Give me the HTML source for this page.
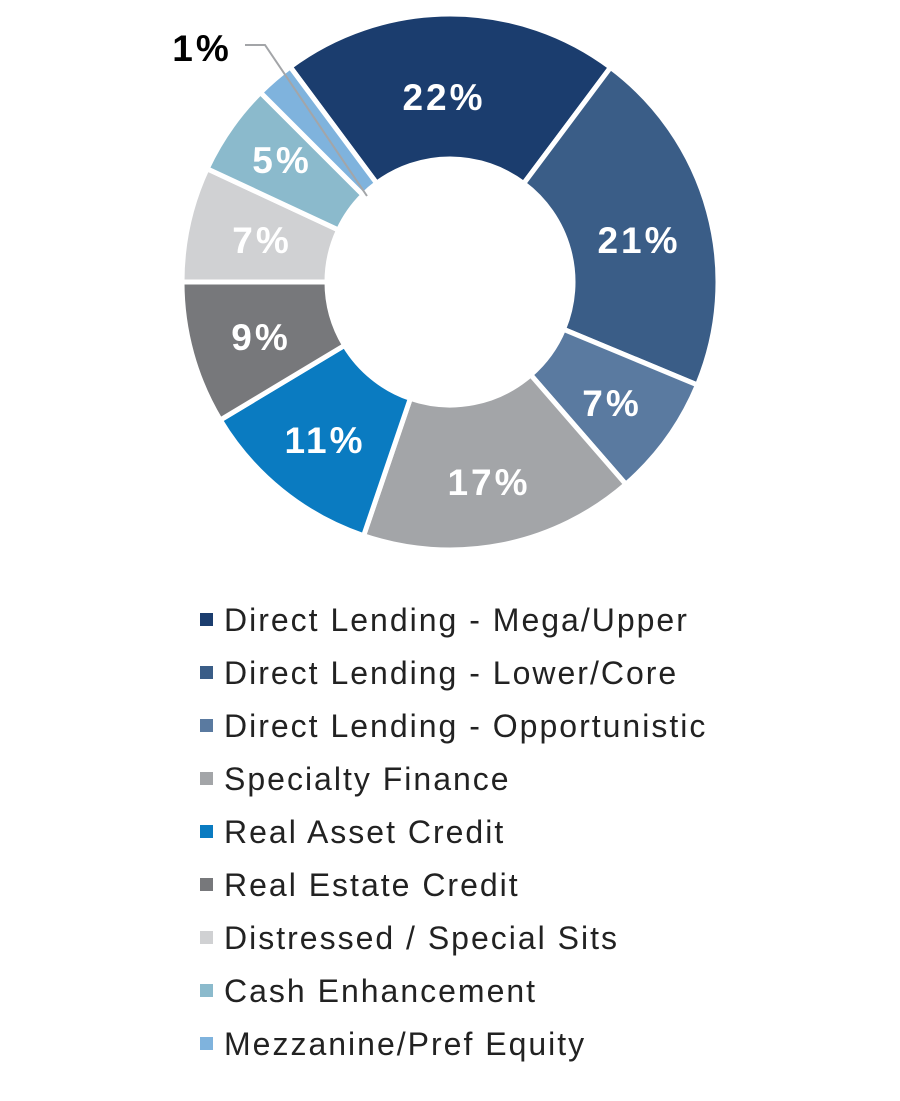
<!DOCTYPE html>
<html><head><meta charset="utf-8"><style>
body{margin:0;background:#fff;width:900px;height:1096px;overflow:hidden;font-family:"Liberation Sans",sans-serif}
</style></head><body>
<svg width="900" height="1096" xmlns="http://www.w3.org/2000/svg">
<g id="d" stroke="#fff" stroke-width="5" stroke-linejoin="miter"></g>
<polyline points="245,45 265,45 367,196" fill="none" stroke="#a3a5a8" stroke-width="2"/>
<g font-family="Liberation Sans, sans-serif" font-weight="bold" font-size="37" fill="#fff" text-anchor="middle" letter-spacing="3">
<text x="444" y="110">22%</text>
<text x="639" y="253">21%</text>
<text x="612" y="416">7%</text>
<text x="489" y="495">17%</text>
<text x="325" y="453">11%</text>
<text x="261" y="350">9%</text>
<text x="262" y="253">7%</text>
<text x="282" y="173">5%</text>
<text x="202" y="61" fill="#000">1%</text>
</g>
<g font-family="Liberation Sans, sans-serif" font-size="32" fill="#222" letter-spacing="2">
<rect x="200" y="613" width="13" height="13" fill="#1b3d6e"/><text x="224" y="631">Direct Lending - Mega/Upper</text>
<rect x="200" y="666" width="13" height="13" fill="#3a5d87"/><text x="224" y="684">Direct Lending - Lower/Core</text>
<rect x="200" y="719" width="13" height="13" fill="#5a7aa0"/><text x="224" y="737">Direct Lending - Opportunistic</text>
<rect x="200" y="772" width="13" height="13" fill="#a3a5a8"/><text x="224" y="790">Specialty Finance</text>
<rect x="200" y="825" width="13" height="13" fill="#0a7bc1"/><text x="224" y="843">Real Asset Credit</text>
<rect x="200" y="878" width="13" height="13" fill="#77787b"/><text x="224" y="896">Real Estate Credit</text>
<rect x="200" y="931" width="13" height="13" fill="#d0d1d3"/><text x="224" y="949">Distressed / Special Sits</text>
<rect x="200" y="984" width="13" height="13" fill="#8bbacc"/><text x="224" y="1002">Cash Enhancement</text>
<rect x="200" y="1037" width="13" height="13" fill="#7fb3dd"/><text x="224" y="1055">Mezzanine/Pref Equity</text>
</g>
</svg>
<script>
const cx=450,cy=282,R=268,r=123;
const b=[-36.6,36.8,112.6,139,198.8,239,270,295,315,323.4];
const c=["#1b3d6e","#3a5d87","#5a7aa0","#a3a5a8","#0a7bc1","#77787b","#d0d1d3","#8bbacc","#7fb3dd"];
const g=document.getElementById('d');
function p(a,rad){a=a*Math.PI/180;return [cx+rad*Math.sin(a),cy-rad*Math.cos(a)];}
for(let i=0;i<9;i++){
 const a0=b[i],a1=b[i+1],l=(a1-a0)>180?1:0;
 const [x0,y0]=p(a0,R),[x1,y1]=p(a1,R),[x2,y2]=p(a1,r),[x3,y3]=p(a0,r);
 const e=document.createElementNS('http://www.w3.org/2000/svg','path');
 e.setAttribute('d',`M${x0},${y0}A${R},${R} 0 ${l} 1 ${x1},${y1}L${x2},${y2}A${r},${r} 0 ${l} 0 ${x3},${y3}Z`);
 e.setAttribute('fill',c[i]);g.appendChild(e);
}
</script>
</body></html>
